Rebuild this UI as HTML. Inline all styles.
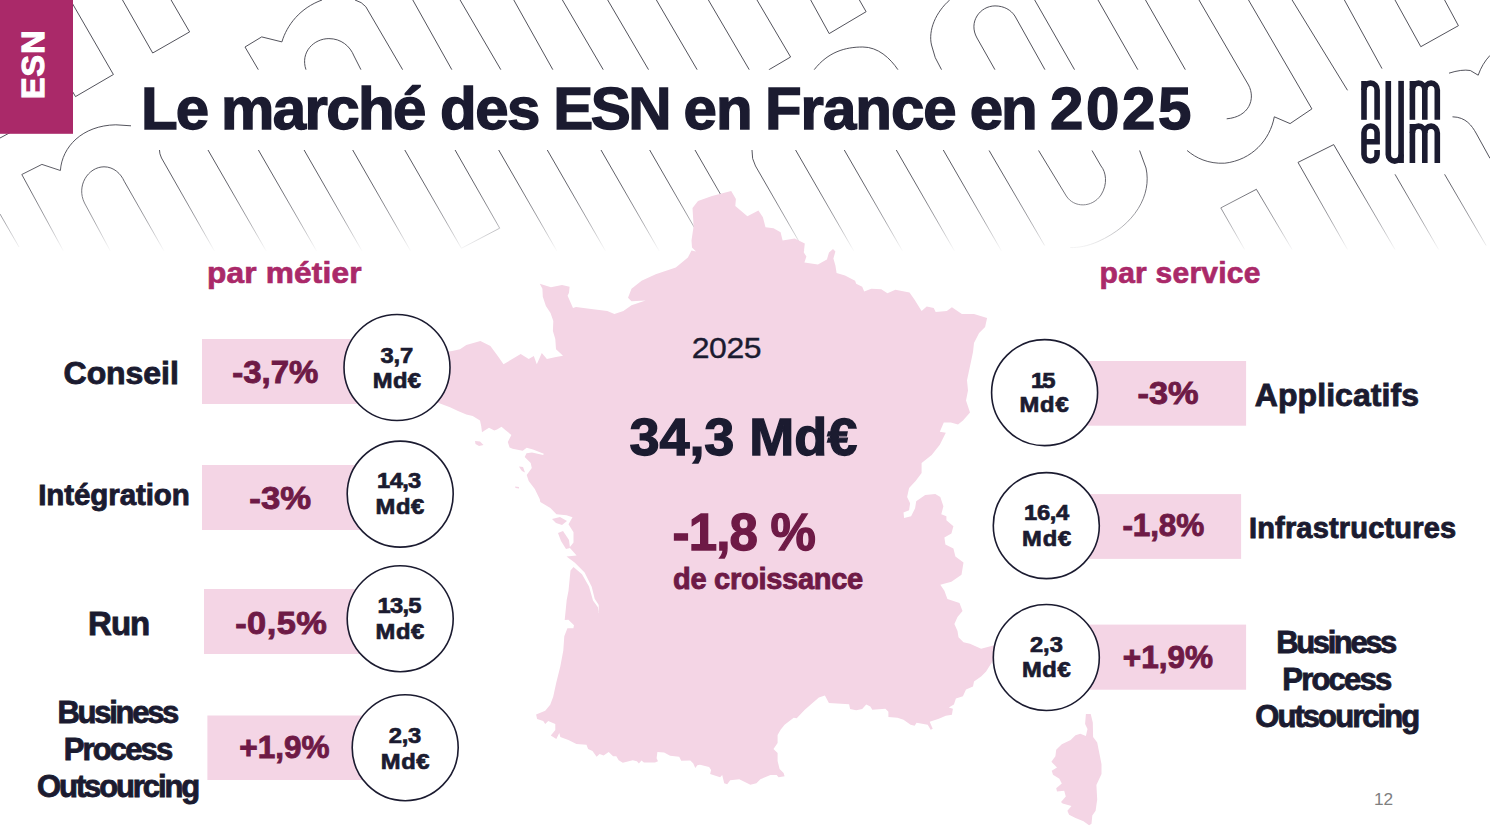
<!DOCTYPE html>
<html lang="fr"><head><meta charset="utf-8"><title>Le marché des ESN en France en 2025</title>
<style>
html,body{margin:0;padding:0;background:#fff;}
body{width:1490px;height:834px;overflow:hidden;position:relative;font-family:"Liberation Sans",sans-serif;}
svg{position:absolute;left:0;top:0;display:block;}
svg text{font-family:"Liberation Sans",sans-serif;}
</style></head>
<body>
<svg width="1490" height="834" viewBox="0 0 1490 834">
<defs>
<linearGradient id="fade" x1="0" y1="0" x2="0" y2="1">
<stop offset="0" stop-color="#fff" stop-opacity="0"/>
<stop offset="0.35" stop-color="#fff" stop-opacity="0.12"/>
<stop offset="0.7" stop-color="#fff" stop-opacity="0.5"/>
<stop offset="0.9" stop-color="#fff" stop-opacity="0.85"/>
<stop offset="1" stop-color="#fff" stop-opacity="1"/>
</linearGradient>
</defs>
<rect width="1490" height="834" fill="#fff"/>
<g fill="none" stroke="#40404a" stroke-width="0.9">
<path d="M70.4,0 L113.4,74.5 L75.5,96.6 L72.8,92"/>
<path d="M122.5,0 L152.7,53 L189.6,31.9 L171.1,0"/>
<path d="M0,138 L14,130.5"/>
<path d="M0,214 L19,247"/>
<path d="M63.8,251.7 L21.8,174.5 L41.9,164.4 L60.4,170.5 C62,147 82,125.5 115.8,124.8 L131,125.8"/>
<path d="M159.4,149.3 Q159.4,154 161.5,158 L214.8,251.7"/>
<path d="M110.7,251.7 L84.5,203 C76,186 88,167 104,166.8 C114,166.8 121,174 124.2,181.2 L164.4,251.7"/>
<path d="M258.4,69.8 L245,47 L261.7,36.9 L281.9,41.9 C287,25 300,8 322,0"/>
<path d="M303.7,149.3 L362.4,251.7"/>
<path d="M306,69.8 C300,52 314,38.6 328.9,38.6 C341,38.6 350,46 354,56 L361,69.8"/>
<path d="M352.3,149.3 L411,251.7"/>
<path d="M404.4,149.3 L461.4,248.3 L499.7,228.2 L454.7,149.3"/>
<path d="M355,0 Q362,2 365.8,6.7 L402.7,69.8"/>
<path d="M412.8,0 L451.9,69.8"/>
<path d="M460.1,0 L500.9,69.8"/>
<path d="M513.8,0 L552.9,69.8"/>
<path d="M562.4,0 L603.3,69.8"/>
<path d="M607.7,0 L648.6,69.8"/>
<path d="M656.4,0 L697.2,69.8"/>
<path d="M708.4,0 L749.3,69.8"/>
<path d="M757,0 L790.6,57 L768.8,69.8"/>
<path d="M810.7,0 L829.2,33.6 L866.1,11.7 L859.4,0"/>
<path d="M814.1,69.8 C828,52 845,47 862.8,47 C878,47 890,58 898,69.8"/>
<path d="M949.7,0 C936,12 928,30 931.5,45 Q934,58 941.6,69.8"/>
<path d="M498.7,150 L557.7,252.4"/>
<path d="M547.3,150 L606.3,252.4"/>
<path d="M601,150 L660,252.4"/>
<path d="M649.7,150 L708.7,252.4"/>
<path d="M695,150 L754,252.4"/>
<path d="M795.6,150 L854.6,252.4"/>
<path d="M844.3,150 L903.3,252.4"/>
<path d="M896.3,150 L955.3,252.4"/>
<path d="M943.3,150 L1002.3,252.4"/>
<path d="M752,150 Q751.5,159 755.5,166 L805,252"/>
<path d="M208,150 L267,252.4"/>
<path d="M258.4,150 L317.4,252.4"/>
<path d="M995,69.8 L977,38 C968,22 980,6 995,5.9 C1004,5.9 1011,10 1014.9,16 L1045,69.8"/>
<path d="M1034.7,0 L1074.6,69.8"/>
<path d="M1098,0 L1137.9,69.8"/>
<path d="M1145.5,0 L1185.4,69.8"/>
<path d="M1199,0 L1248.5,85 C1256,99 1249,117 1226.7,118.8"/>
<path d="M1248.5,0 L1311.9,108.9 L1290.1,123.6 L1274.3,116.8 C1270,140 1252,160 1224.8,163.2 C1208,164 1196,158 1187.1,150.5"/>
<path d="M1292.1,0 L1347.5,90.3"/>
<path d="M1344.4,0 L1382,68.6"/>
<path d="M1395,0 L1420.8,46.7 L1458.4,25.7 L1444.6,0"/>
<path d="M1448.5,73.3 Q1462,69 1470.3,70.5 L1478.2,75.2 Q1482,64 1490,55.4"/>
<path d="M1452.5,116.8 C1466,117 1472,126 1476,133 L1490,158.4"/>
<path d="M989.1,150.5 L1044.6,245.5"/>
<path d="M1038.6,150.5 L1066.3,196 C1074,208 1092,208 1101,195 C1108,184 1106,172 1101,166 L1092,150.5"/>
<path d="M1139.6,150.5 L1146,168 C1152,195 1135,225 1098,241.6 C1088,246 1078,248 1070.3,247.5"/>
<path d="M1244.6,249.5 L1220.8,207.9 L1256.4,189.3 L1292.1,249.5"/>
<path d="M1347.5,249.5 L1298,162.4 L1333.7,144.6 L1395,249.5"/>
<path d="M1395,174.3 L1438.6,249.5"/>
<path d="M1444.6,174.3 L1486.1,245.5"/>
</g>
<rect x="0" y="150" width="1490" height="102" fill="url(#fade)"/>
<rect x="0" y="251" width="1490" height="583" fill="#fff"/>
<rect x="131" y="69.8" width="1094" height="80.2" fill="#fff"/>
<rect x="1352" y="69" width="97" height="105" fill="#fff"/>
<rect x="0" y="0" width="73" height="133.8" fill="#aa2969"/>
<g fill="#f4d5e5">
<polygon points="731.2,191 735.9,199.1 735.3,206.1 747.4,216.2 758.4,210.6 762.9,217.2 765.5,227.3 773.5,228.3 780.6,232.3 782.6,240.4 794.7,238.4 804.8,243.4 803.8,252.5 806.4,256.5 804.4,262.5 817.9,264.6 826.9,259.5 829,252.5 833,249 835.4,251.5 833.4,258.5 835.4,265.6 836.6,273 845,275.6 855.1,280.7 856.2,283.7 862.2,286.7 864.2,291.4 871.3,288.7 881.3,289.3 887.4,293.2 895.4,289.7 909.5,292.4 914.6,299.8 921.6,310.9 926.7,306.5 933.7,307.9 935.7,311.9 946.8,310.9 951.9,307.3 961.9,313.9 974,313.9 987.1,317.9 985.1,327 979.1,333.1 974,343.1 973,352 970,366.2 967,380.3 968,390.4 966,400.4 970,412.5 963,420.6 958,424.6 950.9,422.6 943.8,422.6 939.8,431.7 945.8,432.7 939.8,444.8 931.7,454.9 921.6,462.9 921.6,473 915.6,481 909.1,488.1 907.1,497.1 910.1,503.2 909.1,510.2 903.5,512.6 904.1,517.9 911.1,516.3 915.1,508.2 916.2,501.2 925.2,495.1 935.3,494.1 940.3,497.1 943.4,506.2 941.3,514.3 946.4,516.3 946.4,520.3 953.4,526.3 951.4,533.4 944.4,537.4 945.4,544.5 953.4,548.5 955.4,556.6 963.5,562.6 961.5,574.7 951.4,581.8 940.3,584.8 944.4,590.8 947.4,598.9 959.5,602.9 962.5,611 957.5,617 954.4,624.1 957.5,631.1 958.5,637.2 963.5,642.2 970,643.8 981.1,648.8 994.2,645.2 996,651 993.2,660.3 986.1,671.4 981.1,676.4 974,681.5 973,686.5 966,689.5 962.9,696.2 955.9,698.6 953.9,704.6 948.8,707.6 952.9,708.7 951.9,714.7 945.8,715.7 938.8,718.7 929.7,721.8 932.7,728.8 930.7,729.8 927.7,724.8 916.6,722.8 914.6,725.8 910.6,724.8 903.5,719.7 897.5,717.7 888.4,717.1 888.4,711.7 885.4,708.7 872.3,709.7 870.3,706.6 866.2,704.6 862.2,709.1 856.2,710.3 850.1,709.1 849.1,704.2 828.9,703 824.9,695.6 818.9,697.6 810.8,704.6 804.8,709.7 796.7,718.3 793.7,717.7 784.6,724.8 780.6,729.8 777.6,734.9 777.6,742.9 773.5,749 777.6,753 777.6,761 779.6,769.1 783.6,773.1 784.6,776.2 778.6,777.2 776.6,775.1 770.5,775.1 760.4,779.2 756.4,783.2 750.4,784.8 739.3,779.2 730.2,780.2 727.2,784.2 724.2,783.2 722.2,775.1 720.1,777.2 710.1,774.1 711.1,770.1 709.1,767.1 700,764.7 697.3,765.2 695.3,768 693.3,763.6 690.3,760.6 681.2,760.8 679.2,756.8 670.1,755.8 664.1,752.5 657.4,752.1 656.6,758.2 658,761.2 655,762.4 643.9,762.4 641.5,760.6 638.9,763.6 636.9,761.2 632.8,760.2 622.8,762.8 618.7,760.2 616.3,756.2 613.1,756.2 608.7,752.1 603.6,755.5 599.6,754.1 596.6,756.8 592.5,751.1 588.1,749.1 586.5,744.7 576.4,744.1 568.4,740 560.3,737 559.3,733 556.3,739 550.8,735.4 555.3,730 555.3,723.9 548.2,720.9 545.2,723.9 543.2,720.9 537.1,718.9 536.1,714.4 545.2,710.8 550.2,704.8 553.2,696.7 556.3,682.6 560.3,666.5 563.3,650.4 564.3,636.3 567.4,628.2 573.4,628.2 574,625.2 568.4,619.7 564.7,620.1 566.7,600 568.5,590.7 570.5,570.6 573.5,567 582,574.3 589,586.5 593,600.5 597.9,607.3 598.7,612.9 598.7,604.9 594.7,598.8 591.7,586.7 584.6,572.6 574.6,562.5 566.5,556.5 576.6,555.5 569.5,547.4 573.5,542.4 573.5,532.3 568.5,524.3 572.5,517.2 566.5,515.2 556.4,514.2 550.4,508.1 540.3,502.1 539.8,499.2 534.8,489.1 528.7,481 526.7,475 531.8,468 530.7,462.9 524.7,456.9 526.5,453.2 532,452.4 543.2,454.9 543.8,453.8 533,449.6 526.7,447.8 522.7,450.8 512.6,448.8 509.6,447.5 507.8,442 511.4,434.9 505,429.8 501.5,426.8 497,429.5 494.3,430.6 489,427.7 485,430.2 482,432.3 481.2,426 480,420.5 472.7,416 466.3,414.5 458,411 450,407.2 436,402 430,395 428,380 430,365 438,353 452.2,351 460,349.3 466.3,345 480.4,341 490.4,346 498.5,357.1 503.5,364.2 510.6,360.1 520.7,354.1 528.7,359.1 533.8,356.1 536.8,364.2 541.8,353.1 546.9,359.1 556,357 563,355.7 559,352 556,349.2 555.3,339.1 552.9,331 553.3,321 550.5,312.9 545.9,305.9 542.8,296.8 542.4,288.7 539.8,283.7 550.9,287.3 562,285.1 569.6,286.7 569,292.8 567.6,295.8 573,307.9 576,306.9 591.2,308.9 607.3,310.9 614.4,313.9 623.4,310.9 631.5,305.3 645.6,300.4 631.5,301.2 628,297.8 631.5,288.7 641.6,280.7 655.7,274.2 675.8,267.6 687.9,257.5 691.5,250.4 696,251.5 692,247.4 691.5,240.4 693.6,226.3 692.5,208.1 698,201.1 712,196"/>
<polygon points="1085.9,714.1 1090.7,714.1 1092.8,722.5 1093.1,736.9 1097.2,742.6 1099.6,754.6 1101.5,764.2 1101.5,773.9 1096.4,785.1 1097.2,799.6 1095.6,810.8 1092.3,815.6 1091.5,823.7 1089.1,825.3 1083.5,821.2 1075.5,818 1069.1,814.8 1067.4,810.8 1071.5,806 1062.6,803.6 1061,802 1065.8,796.4 1064.2,790.7 1057,791.5 1056.2,788.3 1061.8,783.5 1059.4,778.7 1053,774.7 1051.7,770.7 1057,767.4 1051.4,761.8 1055.4,756.2 1056.2,749.8 1061.8,744.2 1070.7,740.1 1075.5,735.3 1080.3,733.7 1085.9,736.1 1087.5,728.9 1085.1,724.1"/>
<polygon points="552,519 560,517 567,521 562,525 556,523"/><polygon points="558,533 563,531 569,540 570,548 566,549 561,541"/><polygon points="475,441 480,441.5 483.5,445 479,446 475.5,444"/><polygon points="519,466.5 523,467 525,472.5 522,471 520.5,469"/><polygon points="515,486.5 519,487 519,488.5 515.5,488"/>
</g>
<rect x="202" y="339" width="160" height="65" fill="#f4d5e5"/>
<rect x="202" y="465" width="160" height="65" fill="#f4d5e5"/>
<rect x="204" y="589" width="160" height="65" fill="#f4d5e5"/>
<rect x="207.4" y="715.5" width="160" height="64.5" fill="#f4d5e5"/>
<rect x="1040" y="361" width="206.0999999999999" height="64.7" fill="#f4d5e5"/>
<rect x="1040" y="494.1" width="201.0999999999999" height="64.8" fill="#f4d5e5"/>
<rect x="1040" y="624.6" width="206.0999999999999" height="65.1" fill="#f4d5e5"/>
<g fill="none" stroke="#1b1b30" stroke-width="5.6" role="img" aria-label="numeum">
<path d="M1364,119.8 V81"/>
<path d="M1364,90 A6.55,6.9 0 0 1 1377.1,90 V119.8"/>
<path d="M1388.3,80.9 V154.5 A6.4,6.6 0 0 0 1401.1,154.5"/>
<path d="M1401.1,80.9 V163"/>
<path d="M1412.4,119.8 V81"/>
<path d="M1412.4,90 A6.2,6.9 0 0 1 1424.8,90 V119.8"/>
<path d="M1424.8,90 A6.25,6.9 0 0 1 1437.3,90 V119.8"/>
<path d="M1412.4,163 V124"/>
<path d="M1412.4,133 A6.2,6.9 0 0 1 1424.8,133 V163"/>
<path d="M1424.8,133 A6.25,6.9 0 0 1 1437.3,133 V163"/>
<path d="M1377.1,150 V154.5 A6.55,6.6 0 0 1 1364,154.5 V132.6 A6.55,6.7 0 0 1 1377.1,132.6 V141.8 H1364"/>
</g>
<circle cx="397" cy="367.5" r="53" fill="#fff" stroke="#1b1b30" stroke-width="1.6"/>
<circle cx="400.2" cy="494.1" r="53" fill="#fff" stroke="#1b1b30" stroke-width="1.6"/>
<circle cx="400.2" cy="618.7" r="53" fill="#fff" stroke="#1b1b30" stroke-width="1.6"/>
<circle cx="405.2" cy="747.7" r="53" fill="#fff" stroke="#1b1b30" stroke-width="1.6"/>
<circle cx="1044.6" cy="392.6" r="53" fill="#fff" stroke="#1b1b30" stroke-width="1.6"/>
<circle cx="1046.3" cy="525.6" r="53" fill="#fff" stroke="#1b1b30" stroke-width="1.6"/>
<circle cx="1046.3" cy="657.5" r="53" fill="#fff" stroke="#1b1b30" stroke-width="1.6"/>
<text y="129.0" font-size="60" font-weight="bold" fill="#1b1b30" stroke="#1b1b30" stroke-width="1.4" stroke-linejoin="miter" stroke-miterlimit="2.5"><tspan x="141.00" letter-spacing="-2.000">Le </tspan><tspan x="221.00" letter-spacing="-1.600">marché </tspan><tspan x="440.10" letter-spacing="-1.500">des </tspan><tspan x="553.20" letter-spacing="-2.500">ESN </tspan><tspan x="683.60" letter-spacing="-1.000">en </tspan><tspan x="764.90" letter-spacing="-1.000">France </tspan><tspan x="969.70" letter-spacing="-2.000">en </tspan><tspan x="1049.90" letter-spacing="2.667">2025</tspan></text>
<text x="0.00" y="0" font-size="30" font-weight="bold" fill="#aa2969" text-anchor="start" letter-spacing="0.147" stroke="#aa2969" stroke-width="0.7" stroke-linejoin="miter" stroke-miterlimit="2.5" transform="translate(207.10,282.75) scale(1.055,1)">par métier</text>
<text x="1099.60" y="282.85" font-size="30" font-weight="bold" fill="#aa2969" text-anchor="start" letter-spacing="0.240" stroke="#aa2969" stroke-width="0.7" stroke-linejoin="miter" stroke-miterlimit="2.5">par service</text>
<text x="63.60" y="384.15" font-size="32" font-weight="bold" fill="#1b1b30" text-anchor="start" letter-spacing="-0.067" stroke="#1b1b30" stroke-width="0.9" stroke-linejoin="miter" stroke-miterlimit="2.5">Conseil</text>
<text x="38.20" y="505.45" font-size="29.5" font-weight="bold" fill="#1b1b30" text-anchor="start" letter-spacing="-0.080" stroke="#1b1b30" stroke-width="0.9" stroke-linejoin="miter" stroke-miterlimit="2.5">Intégration</text>
<text x="88.10" y="635.25" font-size="33" font-weight="bold" fill="#1b1b30" text-anchor="start" letter-spacing="-1.000" stroke="#1b1b30" stroke-width="0.9" stroke-linejoin="miter" stroke-miterlimit="2.5">Run</text>
<text x="57.50" y="722.85" font-size="31" font-weight="bold" fill="#1b1b30" text-anchor="start" letter-spacing="-2.286" stroke="#1b1b30" stroke-width="0.9" stroke-linejoin="miter" stroke-miterlimit="2.5">Business</text>
<text x="63.70" y="759.75" font-size="31" font-weight="bold" fill="#1b1b30" text-anchor="start" letter-spacing="-1.867" stroke="#1b1b30" stroke-width="0.9" stroke-linejoin="miter" stroke-miterlimit="2.5">Process</text>
<text x="37.10" y="796.65" font-size="31" font-weight="bold" fill="#1b1b30" text-anchor="start" letter-spacing="-2.120" stroke="#1b1b30" stroke-width="0.9" stroke-linejoin="miter" stroke-miterlimit="2.5">Outsourcing</text>
<text x="0.00" y="0" font-size="31.5" font-weight="bold" fill="#6e1a46" text-anchor="start" letter-spacing="0.048" stroke="#6e1a46" stroke-width="0.9" stroke-linejoin="miter" stroke-miterlimit="2.5" transform="translate(232.20,382.65) scale(1.045,1)">-3,7%</text>
<text x="0.00" y="0" font-size="31.5" font-weight="bold" fill="#6e1a46" text-anchor="start" letter-spacing="0.091" stroke="#6e1a46" stroke-width="0.9" stroke-linejoin="miter" stroke-miterlimit="2.5" transform="translate(249.30,508.65) scale(1.1,1)">-3%</text>
<text x="0.00" y="0" font-size="32" font-weight="bold" fill="#6e1a46" text-anchor="start" letter-spacing="0.419" stroke="#6e1a46" stroke-width="0.9" stroke-linejoin="miter" stroke-miterlimit="2.5" transform="translate(235.20,633.95) scale(1.075,1)">-0,5%</text>
<text x="239.30" y="757.75" font-size="31.5" font-weight="bold" fill="#6e1a46" text-anchor="start" stroke="#6e1a46" stroke-width="0.9" stroke-linejoin="miter" stroke-miterlimit="2.5">+1,9%</text>
<text x="0.00" y="0" font-size="31.5" font-weight="bold" fill="#6e1a46" text-anchor="start" stroke="#6e1a46" stroke-width="0.9" stroke-linejoin="miter" stroke-miterlimit="2.5" transform="translate(1137.60,404.05) scale(1.09,1)">-3%</text>
<text x="1122.40" y="535.95" font-size="31.5" font-weight="bold" fill="#6e1a46" text-anchor="start" letter-spacing="-0.100" stroke="#6e1a46" stroke-width="0.9" stroke-linejoin="miter" stroke-miterlimit="2.5">-1,8%</text>
<text x="1122.70" y="668.45" font-size="31.5" font-weight="bold" fill="#6e1a46" text-anchor="start" letter-spacing="0.050" stroke="#6e1a46" stroke-width="0.9" stroke-linejoin="miter" stroke-miterlimit="2.5">+1,9%</text>
<text x="1254.80" y="406.25" font-size="32" font-weight="bold" fill="#1b1b30" text-anchor="start" letter-spacing="0.060" stroke="#1b1b30" stroke-width="0.9" stroke-linejoin="miter" stroke-miterlimit="2.5">Applicatifs</text>
<text x="1248.90" y="538.25" font-size="29" font-weight="bold" fill="#1b1b30" text-anchor="start" letter-spacing="0.186" stroke="#1b1b30" stroke-width="0.9" stroke-linejoin="miter" stroke-miterlimit="2.5">Infrastructures</text>
<text x="1276.30" y="653.15" font-size="31" font-weight="bold" fill="#1b1b30" text-anchor="start" letter-spacing="-2.400" stroke="#1b1b30" stroke-width="0.9" stroke-linejoin="miter" stroke-miterlimit="2.5">Business</text>
<text x="1282.30" y="690.05" font-size="31" font-weight="bold" fill="#1b1b30" text-anchor="start" letter-spacing="-1.800" stroke="#1b1b30" stroke-width="0.9" stroke-linejoin="miter" stroke-miterlimit="2.5">Process</text>
<text x="1255.20" y="726.95" font-size="31" font-weight="bold" fill="#1b1b30" text-anchor="start" letter-spacing="-1.920" stroke="#1b1b30" stroke-width="0.9" stroke-linejoin="miter" stroke-miterlimit="2.5">Outsourcing</text>
<text x="0.00" y="0" font-size="29.6" font-weight="normal" fill="#1b1b30" text-anchor="start" letter-spacing="-0.370" stroke="#1b1b30" stroke-width="0.35" stroke-linejoin="miter" stroke-miterlimit="2.5" transform="translate(691.70,357.82) scale(1.08,1)">2025</text>
<text x="0.00" y="0" font-size="51" font-weight="bold" fill="#1b1b30" text-anchor="start" letter-spacing="-0.054" stroke="#1b1b30" stroke-width="1.3" stroke-linejoin="miter" stroke-miterlimit="2.5" transform="translate(629.40,455.25) scale(1.06,1)">34,3 Md€</text>
<text x="672.50" y="549.95" font-size="51" font-weight="bold" fill="#6e1a46" text-anchor="start" letter-spacing="-0.800" stroke="#6e1a46" stroke-width="1.3" stroke-linejoin="miter" stroke-miterlimit="2.5">-1,8 %</text>
<text x="673.00" y="589.15" font-size="29" font-weight="bold" fill="#6e1a46" text-anchor="start" letter-spacing="-0.267" stroke="#6e1a46" stroke-width="0.9" stroke-linejoin="miter" stroke-miterlimit="2.5">de croissance</text>
<text x="0.00" y="0" font-size="22.2" font-weight="bold" fill="#1b1b30" text-anchor="start" letter-spacing="-0.093" stroke="#1b1b30" stroke-width="0.7" stroke-linejoin="miter" stroke-miterlimit="2.5" transform="translate(380.50,362.75) scale(1.07,1)">3,7</text>
<text x="0.00" y="0" font-size="22.2" font-weight="bold" fill="#1b1b30" text-anchor="start" letter-spacing="0.374" stroke="#1b1b30" stroke-width="0.7" stroke-linejoin="miter" stroke-miterlimit="2.5" transform="translate(372.70,388.45) scale(1.07,1)">Md€</text>
<text x="0.00" y="0" font-size="22.2" font-weight="bold" fill="#1b1b30" text-anchor="start" letter-spacing="-0.623" stroke="#1b1b30" stroke-width="0.7" stroke-linejoin="miter" stroke-miterlimit="2.5" transform="translate(377.10,488.35) scale(1.07,1)">14,3</text>
<text x="0.00" y="0" font-size="22.2" font-weight="bold" fill="#1b1b30" text-anchor="start" letter-spacing="0.654" stroke="#1b1b30" stroke-width="0.7" stroke-linejoin="miter" stroke-miterlimit="2.5" transform="translate(375.40,514.45) scale(1.07,1)">Md€</text>
<text x="0.00" y="0" font-size="22.2" font-weight="bold" fill="#1b1b30" text-anchor="start" letter-spacing="-0.748" stroke="#1b1b30" stroke-width="0.7" stroke-linejoin="miter" stroke-miterlimit="2.5" transform="translate(377.60,613.35) scale(1.07,1)">13,5</text>
<text x="0.00" y="0" font-size="22.2" font-weight="bold" fill="#1b1b30" text-anchor="start" letter-spacing="0.654" stroke="#1b1b30" stroke-width="0.7" stroke-linejoin="miter" stroke-miterlimit="2.5" transform="translate(375.40,639.45) scale(1.07,1)">Md€</text>
<text x="0.00" y="0" font-size="22.2" font-weight="bold" fill="#1b1b30" text-anchor="start" letter-spacing="-0.187" stroke="#1b1b30" stroke-width="0.7" stroke-linejoin="miter" stroke-miterlimit="2.5" transform="translate(388.70,742.65) scale(1.07,1)">2,3</text>
<text x="0.00" y="0" font-size="22.2" font-weight="bold" fill="#1b1b30" text-anchor="start" letter-spacing="0.561" stroke="#1b1b30" stroke-width="0.7" stroke-linejoin="miter" stroke-miterlimit="2.5" transform="translate(380.80,768.55) scale(1.07,1)">Md€</text>
<text x="0.00" y="0" font-size="22.2" font-weight="bold" fill="#1b1b30" text-anchor="start" letter-spacing="-1.869" stroke="#1b1b30" stroke-width="0.7" stroke-linejoin="miter" stroke-miterlimit="2.5" transform="translate(1031.00,387.55) scale(1.07,1)">15</text>
<text x="0.00" y="0" font-size="22.2" font-weight="bold" fill="#1b1b30" text-anchor="start" letter-spacing="0.748" stroke="#1b1b30" stroke-width="0.7" stroke-linejoin="miter" stroke-miterlimit="2.5" transform="translate(1019.50,412.35) scale(1.07,1)">Md€</text>
<text x="0.00" y="0" font-size="22.2" font-weight="bold" fill="#1b1b30" text-anchor="start" letter-spacing="-0.312" stroke="#1b1b30" stroke-width="0.7" stroke-linejoin="miter" stroke-miterlimit="2.5" transform="translate(1024.10,520.35) scale(1.07,1)">16,4</text>
<text x="0.00" y="0" font-size="22.2" font-weight="bold" fill="#1b1b30" text-anchor="start" letter-spacing="0.841" stroke="#1b1b30" stroke-width="0.7" stroke-linejoin="miter" stroke-miterlimit="2.5" transform="translate(1022.00,546.45) scale(1.07,1)">Md€</text>
<text x="0.00" y="0" font-size="22.2" font-weight="bold" fill="#1b1b30" text-anchor="start" stroke="#1b1b30" stroke-width="0.7" stroke-linejoin="miter" stroke-miterlimit="2.5" transform="translate(1029.90,652.45) scale(1.07,1)">2,3</text>
<text x="0.00" y="0" font-size="22.2" font-weight="bold" fill="#1b1b30" text-anchor="start" letter-spacing="0.561" stroke="#1b1b30" stroke-width="0.7" stroke-linejoin="miter" stroke-miterlimit="2.5" transform="translate(1021.90,677.45) scale(1.07,1)">Md€</text>
<text x="1374.00" y="805.4" font-size="17.3" font-weight="normal" fill="#7f7f7f" text-anchor="start" letter-spacing="-0.200">12</text>
<text transform="translate(44.4,99) rotate(-90)" font-size="32.2" font-weight="bold" fill="#fff" stroke="#fff" stroke-width="1.2" stroke-linejoin="miter" stroke-miterlimit="2.5" letter-spacing="1.1">ESN</text>
</svg>
</body></html>
